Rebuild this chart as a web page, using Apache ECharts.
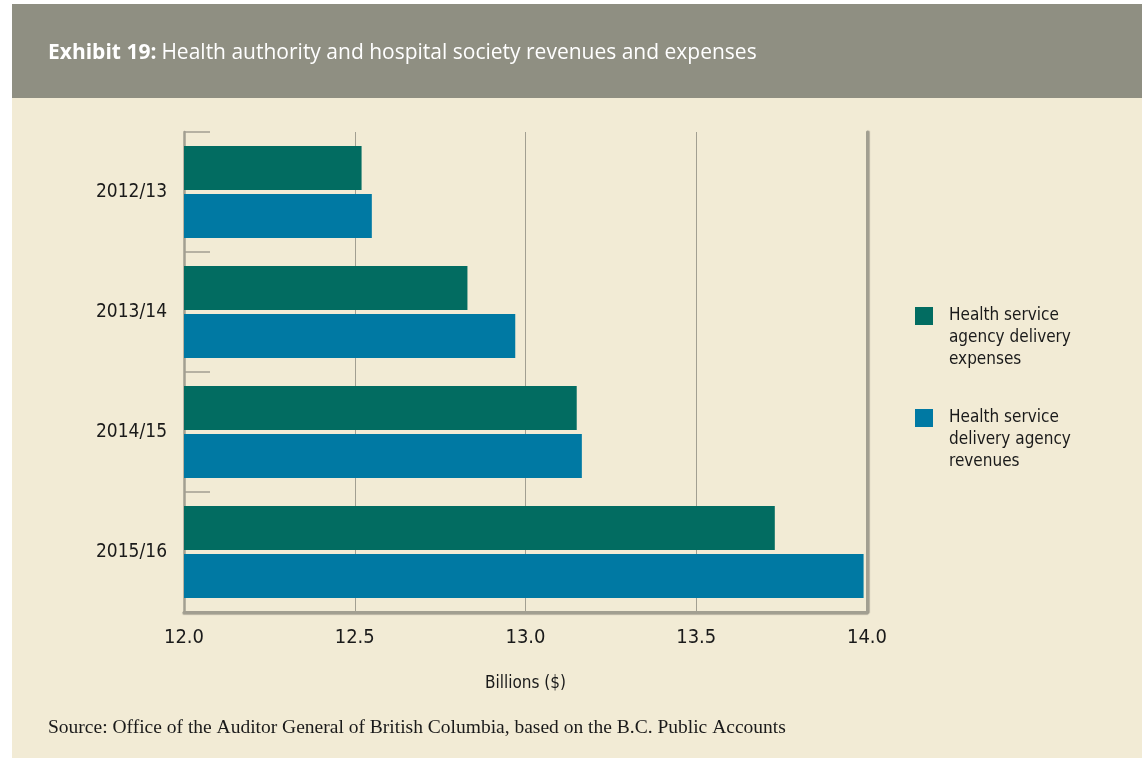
<!DOCTYPE html>
<html>
<head>
<meta charset="utf-8">
<title>Exhibit 19</title>
<script src="https://cdn.jsdelivr.net/npm/echarts@6/dist/echarts.min.js"></script>
<style>
  html, body { margin: 0; padding: 0; background: #ffffff; }
  .page { position: relative; width: 1142px; height: 762px; overflow: hidden; }
  .header { position: absolute; left: 12px; top: 4px; width: 1130px; height: 94px; background: #8f8f82; }
  .panel { position: absolute; left: 12px; top: 98px; width: 1130px; height: 660px; background: #f2ebd5; }
  #chart { position: absolute; left: 0; top: 0; width: 1142px; height: 762px; }
</style>
</head>
<body>
<div class="page">
  <div class="header"></div>
  <div class="panel"></div>
  <div id="chart"></div>
</div>
<script>
const years = ["2012/13", "2013/14", "2014/15", "2015/16"];
const expenses = [12.52, 12.83, 13.15, 13.73];
const revenues = [12.55, 12.97, 13.165, 13.99];
const expensesName = "Health service\nagency delivery\nexpenses";
const revenuesName = "Health service\ndelivery agency\nrevenues";

const narrow = '"DejaVu Sans Condensed", "Liberation Sans Narrow", sans-serif';
const axisGray = "#a29f91";

const chart = echarts.init(document.getElementById("chart"));

// legend: two blank lines on top so the first text line sits level with the square
const legendBase = {
  left: 915,
  padding: 0,
  itemWidth: 40,
  itemHeight: 18,
  itemGap: 0,
  icon: "path://M0,0H18V18H0Z",
  formatter: (name) => "\n\n" + name,
  textStyle: {
    fontFamily: narrow,
    fontSize: 17,
    lineHeight: 22,
    color: "#1a1a1a",
  },
};

chart.setOption({
  backgroundColor: "transparent",
  animation: false,
  title: [
    {
      left: 48,
      top: 43,
      padding: 0,
      text: "{b|Exhibit 19:} {n|Health authority and hospital society revenues and expenses}",
      textStyle: {
        rich: {
          b: { fontFamily: '"Open Sans"', fontWeight: "bold", fontSize: 21, color: "#ffffff" },
          n: { fontFamily: '"Open Sans"', fontWeight: "normal", fontSize: 21, color: "#ffffff" },
        },
      },
    },
    {
      left: 48,
      top: 718,
      padding: 0,
      text: "Source: Office of the Auditor General of British Columbia, based on the B.C. Public Accounts",
      textStyle: {
        fontFamily: '"Liberation Serif", serif',
        fontWeight: "normal",
        fontSize: 19.5,
        color: "#1a1a1a",
      },
    },
  ],
  legend: [
    Object.assign({}, legendBase, { data: [expensesName], top: 261 }),
    Object.assign({}, legendBase, { data: [revenuesName], top: 363 }),
  ],
  grid: {
    left: 184,
    right: 275,
    top: 132,
    bottom: 150,
  },
  xAxis: {
    type: "value",
    min: 12,
    max: 14,
    interval: 0.5,
    name: "Billions ($)",
    nameLocation: "middle",
    nameGap: 63,
    nameTextStyle: { fontFamily: narrow, fontSize: 17, color: "#1a1a1a" },
    axisLine: {
      show: true,
      lineStyle: { color: axisGray, width: 3, shadowColor: "rgba(0,0,0,0.25)", shadowOffsetY: 1, shadowBlur: 1 },
    },
    axisTick: { show: false },
    axisLabel: {
      margin: 16,
      fontFamily: narrow,
      fontSize: 20,
      color: "#1a1a1a",
      formatter: (v) => v.toFixed(1),
    },
    splitLine: {
      show: true,
      lineStyle: { color: axisGray, width: 1 },
    },
  },
  yAxis: [
    {
      type: "category",
      data: years,
      inverse: true,
      axisLine: { show: true, lineStyle: { color: axisGray, width: 2.5 } },
      axisTick: { show: true, inside: true, length: 26, lineStyle: { color: axisGray, width: 1.5 } },
      axisLabel: { margin: 17, fontFamily: narrow, fontSize: 19, color: "#1a1a1a" },
    },
    {
      type: "category",
      data: years,
      inverse: true,
      position: "right",
      axisLine: {
        show: true,
        lineStyle: { color: axisGray, width: 3, shadowColor: "rgba(0,0,0,0.25)", shadowOffsetX: 1, shadowBlur: 1 },
      },
      axisTick: { show: false },
      axisLabel: { show: false },
    },
  ],
  series: [
    {
      name: expensesName,
      type: "bar",
      data: expenses,
      itemStyle: { color: "#026c61" },
      barCategoryGap: "23.3%",
      barGap: "9%",
    },
    {
      name: revenuesName,
      type: "bar",
      data: revenues,
      itemStyle: { color: "#0079a3" },
      barCategoryGap: "23.3%",
      barGap: "9%",
    },
  ],
});
</script>
</body>
</html>
